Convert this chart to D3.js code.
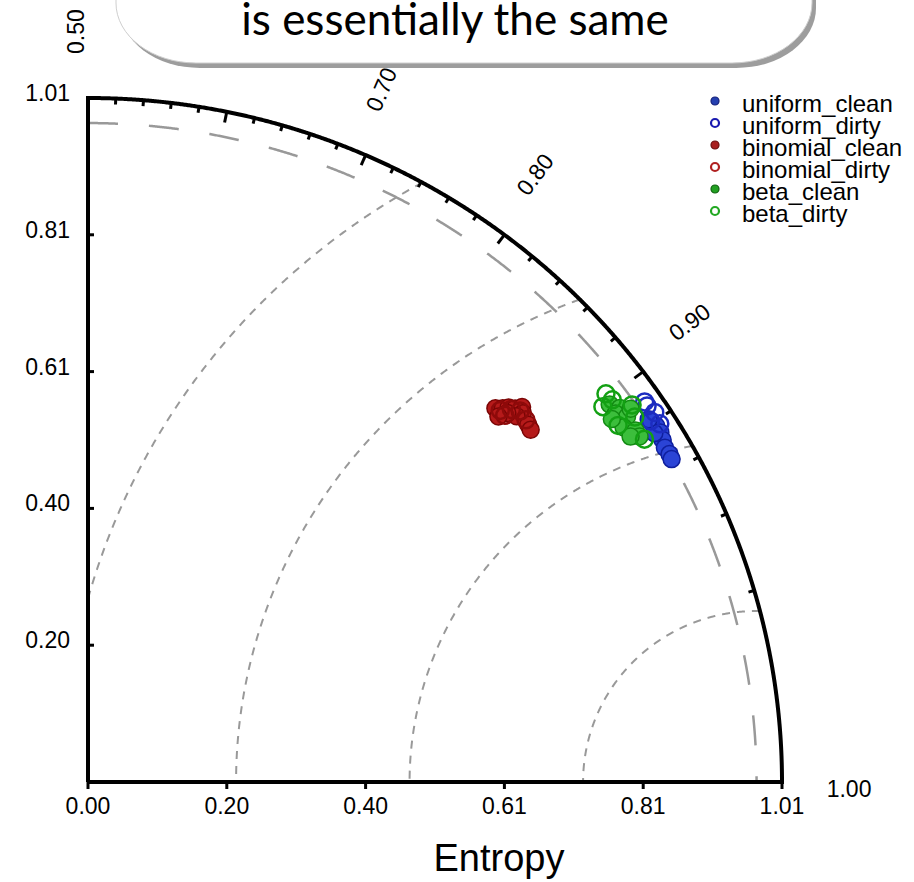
<!DOCTYPE html>
<html><head><meta charset="utf-8">
<script src="https://cdn.jsdelivr.net/npm/d3@7"></script>
<style>body{margin:0;background:#fff}svg{display:block}</style>
</head><body>
<svg id="chart" width="914" height="882"></svg>
<script>
// ---------- data ----------
const stdTicks = [0, 0.202, 0.404, 0.606, 0.808, 1.01];
const stdTickLabels = ["0.00", "0.20", "0.40", "0.61", "0.81", "1.01"];
const corrMajor = [0.5, 0.6, 0.7, 0.8, 0.9, 1.0];
const corrLabels = ["0.50", "0.60", "0.70", "0.80", "0.90", "1.00"];
const corrMinorStep = 0.02;
const stdMax = 1.01;
const refStd = 0.973;
const rmsLevels = [0.2525, 0.505, 0.7575, 1.01];
const xTitle = "Entropy";
const calloutText = "is essentially the same";

const seriesNames = ["uniform_clean", "uniform_dirty", "binomial_clean", "binomial_dirty", "beta_clean", "beta_dirty"];
const uniformCleanStd  = [0.977, 0.980, 0.980, 0.977, 0.974, 0.975, 0.974, 0.972, 0.976];
const uniformCleanCorr = [0.920, 0.922, 0.925, 0.928, 0.931, 0.934, 0.936, 0.924, 0.918];
const uniformDirtyStd  = [0.985, 0.989, 0.977, 0.986, 0.9855];
const uniformDirtyCorr = [0.913, 0.917, 0.919, 0.922, 0.911];
const binomialCleanStd  = [0.810, 0.818, 0.825, 0.831, 0.840, 0.835, 0.825, 0.818, 0.805, 0.830, 0.828];
const binomialCleanCorr = [0.866, 0.869, 0.871, 0.874, 0.876, 0.879, 0.878, 0.873, 0.871, 0.886, 0.889];
const binomialDirtyStd  = [0.813, 0.826, 0.834, 0.832, 0.813];
const binomialDirtyCorr = [0.869, 0.873, 0.877, 0.883, 0.873];
const betaCleanStd  = [0.942, 0.951, 0.941, 0.952, 0.939, 0.951, 0.951, 0.940, 0.963, 0.932];
const betaCleanCorr = [0.903, 0.907, 0.908, 0.912, 0.915, 0.919, 0.922, 0.920, 0.910, 0.909];
const betaDirtyStd  = [0.947, 0.932, 0.949, 0.968, 0.961, 0.934, 0.955];
const betaDirtyCorr = [0.898, 0.902, 0.902, 0.909, 0.914, 0.913, 0.924];

const seriesStd  = [uniformCleanStd, uniformDirtyStd, binomialCleanStd, binomialDirtyStd, betaCleanStd, betaDirtyStd];
const seriesCorr = [uniformCleanCorr, uniformDirtyCorr, binomialCleanCorr, binomialDirtyCorr, betaCleanCorr, betaDirtyCorr];
const seriesFilled = [true, false, true, false, true, false];
const seriesFill   = ["#2b44d6", "none", "#b51a1a", "none", "#3cbe3c", "none"];
const seriesStroke = ["#0f1f9e", "#1c2cc0", "#7a0505", "#8e0a0a", "#128a12", "#13a013"];
const legendFill   = ["#2540b0", "#fff", "#a82020", "#fff", "#22a022", "#fff"];
const legendStroke = ["#15207a", "#1a1ab0", "#6a1010", "#b02020", "#106010", "#22a822"];

// ---------- scales ----------
const svg = d3.select("#chart");
const x = d3.scaleLinear().domain([0, stdMax]).range([88, 782]);
const y = d3.scaleLinear().domain([0, stdMax]).range([782, 98]);
const cosOf = d3.scaleLinear().domain([0.5, 1]).range([0, 1]); // label -> cos(theta)
const theta = c => Math.acos(Math.max(-1, Math.min(1, cosOf(c))));
const px = (r, t) => [x(r * Math.cos(t)), y(r * Math.sin(t))];
const line = d3.line().x(d => d[0]).y(d => d[1]).defined(d => d.ok !== false);
const font = "'Liberation Sans', Arial, Helvetica, sans-serif";

// ---------- RMS arcs ----------
const g = svg.append("g");
rmsLevels.forEach(r => {
  const pts = d3.range(0, 1801).map(i => {
    const a = Math.PI * i / 1800;
    const dx = refStd + r * Math.cos(a), dy = r * Math.sin(a);
    const p = [x(dx), y(dy)];
    p.ok = dx >= 0 && dy >= 0 && Math.hypot(dx, dy) <= stdMax;
    return p;
  });
  g.append("path").attr("d", line(pts)).attr("fill", "none")
    .attr("stroke", "#999").attr("stroke-width", 2).attr("stroke-dasharray", "8,7");
});

// reference std arc (long dash)
const refPts = d3.range(0, 901).map(i => px(refStd, Math.PI / 2 * i / 900)).reverse();
g.append("path").attr("d", line(refPts)).attr("fill", "none")
  .attr("stroke", "#999").attr("stroke-width", 2.5).attr("stroke-dasharray", "30,31");

// ---------- axes ----------
const outerPts = d3.range(0, 901).map(i => px(stdMax, Math.PI / 2 * i / 900));
g.append("path").attr("d", line([[x(0), y(0)], [x(stdMax), y(0)]].concat(outerPts, [[x(0), y(0)]])))
  .attr("fill", "none").attr("stroke", "#000").attr("stroke-width", 4).attr("stroke-linejoin", "miter");

// std ticks
stdTicks.forEach((v, i) => {
  g.append("line").attr("x1", x(v)).attr("x2", x(v)).attr("y1", y(0)).attr("y2", y(0) + 7)
    .attr("stroke", "#000").attr("stroke-width", 3);
  g.append("line").attr("x1", x(0)).attr("x2", x(0) + 6).attr("y1", y(v)).attr("y2", y(v))
    .attr("stroke", "#000").attr("stroke-width", 3);
  g.append("text").attr("x", x(v)).attr("y", 814).attr("text-anchor", "middle")
    .attr("font-family", font).attr("font-size", 23).text(stdTickLabels[i]);
  if (i > 0) g.append("text").attr("x", 70).attr("y", y(v) + 3).attr("text-anchor", "end")
    .attr("font-family", font).attr("font-size", 23).text(stdTickLabels[i]);
});

// correlation ticks
const nMinor = Math.round((1 - 0.5) / corrMinorStep);
d3.range(0, nMinor + 1).forEach(k => {
  const c = 0.5 + k * corrMinorStep;
  const major = corrMajor.some(m => Math.abs(m - c) < 1e-6);
  const t = theta(c);
  const len = (major ? 11 : 6) / 687;
  const p1 = px(stdMax, t), p2 = px(stdMax - len, t);
  g.append("line").attr("x1", p1[0]).attr("y1", p1[1]).attr("x2", p2[0]).attr("y2", p2[1])
    .attr("stroke", "#000").attr("stroke-width", 3);
});
corrMajor.forEach((c, i) => {
  const t = theta(c);
  const p = px(1.075, t);
  const deg = t * 180 / Math.PI;
  g.append("text").attr("transform", `translate(${p[0]},${p[1]}) rotate(${-deg})`)
    .attr("dy", deg < 1 ? 15 : -4)
    .attr("font-family", font).attr("font-size", 23).text(corrLabels[i]);
});

// x title
g.append("text").attr("x", 499).attr("y", 871).attr("text-anchor", "middle")
  .attr("font-family", font).attr("font-size", 38).text(xTitle);

// ---------- points ----------
seriesNames.forEach((name, s) => {
  const pts = seriesStd[s].map((r, i) => px(r, theta(seriesCorr[s][i])));
  g.append("g").selectAll("circle").data(pts).join("circle")
    .attr("cx", d => d[0]).attr("cy", d => d[1]).attr("r", 8.5)
    .attr("fill", seriesFill[s]).attr("stroke", seriesStroke[s])
    .attr("stroke-width", seriesFilled[s] ? 1.5 : 2.5);
});

// ---------- legend ----------
const lg = svg.append("g");
seriesNames.forEach((name, s) => {
  const yy = 101 + s * 22;
  lg.append("circle").attr("cx", 715).attr("cy", yy).attr("r", 4)
    .attr("fill", legendFill[s]).attr("stroke", legendStroke[s]).attr("stroke-width", seriesFilled[s] ? 1.2 : 2.2);
  lg.append("text").attr("x", 742).attr("y", yy + 11).attr("font-family", font)
    .attr("font-size", 24).text(name);
});

// ---------- callout overlay ----------
const bx0 = 116, bx1 = 812, by1 = 63, brx = 80, bry = 60, byTop = -30;
const boxPath = `M${bx0},${byTop} L${bx0},${by1 - bry} A${brx},${bry} 0 0 0 ${bx0 + brx},${by1} L${bx1 - brx},${by1} A${brx},${bry} 0 0 0 ${bx1},${by1 - bry} L${bx1},${byTop} Z`;
const cg = svg.append("g");
cg.append("path").attr("d", boxPath).attr("transform", "translate(4,5)").attr("fill", "#9d9d9d");
cg.append("path").attr("d", boxPath).attr("fill", "#fff").attr("stroke", "#cfcfcf").attr("stroke-width", 1);
cg.append("text").attr("x", 455).attr("y", 35).attr("text-anchor", "middle")
  .attr("font-family", "Lato, 'Open Sans', sans-serif").attr("font-size", 44).text(calloutText);
</script>
</body></html>
